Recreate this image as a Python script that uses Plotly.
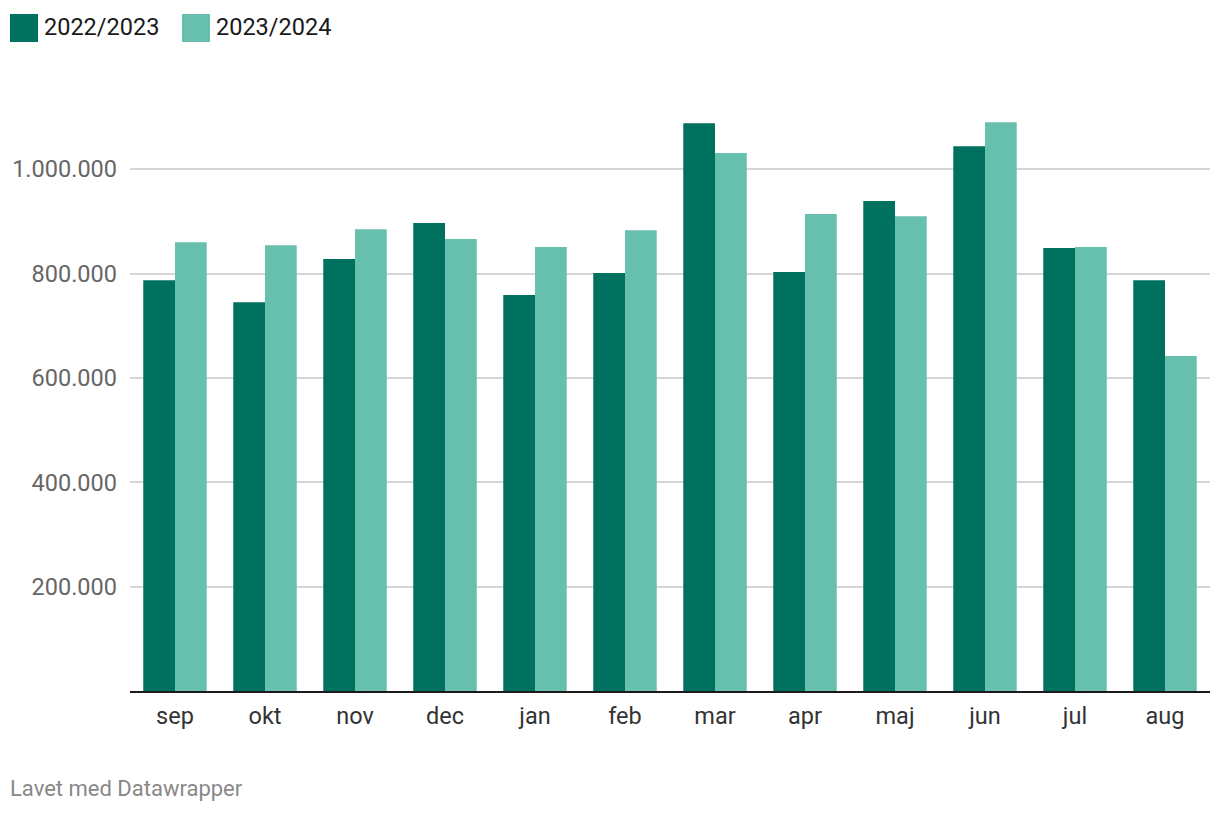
import plotly.graph_objects as go

months = ["sep", "okt", "nov", "dec", "jan", "feb", "mar", "apr", "maj", "jun", "jul", "aug"]
series_names = ["2022/2023", "2023/2024"]
values_2022_2023 = [787000, 745000, 828000, 897000, 759000, 801000, 1088000, 803000, 939000, 1044000, 849000, 787000]
values_2023_2024 = [860000, 854000, 885000, 866000, 851000, 883000, 1031000, 914000, 910000, 1090000, 851000, 642000]
y_ticks = [200000, 400000, 600000, 800000, 1000000]
colors = ["#00705f", "#67bfae"]

# page has an 8px body margin; work in figure coords = screen - 8
OFF = 8
W, H = 1212, 806
L, R, T, B = 130 - OFF, 1212 - (1210 - OFF), 117 - OFF, 806 - (691 - OFF)
PW = W - L - R
PH = H - T - B

fig = go.Figure()
for name, vals, c in zip(series_names, [values_2022_2023, values_2023_2024], colors):
    fig.add_trace(go.Bar(x=months, y=vals, name=name, marker=dict(color=c, line=dict(width=0)),
                         hoverinfo="skip", showlegend=False))

fig.update_layout(
    width=W, height=H,
    margin=dict(l=L, r=R, t=T, b=B, autoexpand=False),
    paper_bgcolor="white", plot_bgcolor="white",
    barmode="group", bargap=0.295, bargroupgap=0,
    separators=",.",
    font=dict(family="Roboto", size=23.5, color="#333333"),
    xaxis=dict(showgrid=False, showline=True, linecolor="#1a1a1a", linewidth=2,
               ticks="", tickfont=dict(size=23.5, color="#333333"), ticklabelstandoff=3,
               automargin=False, fixedrange=True),
    yaxis=dict(range=[0, 1100000], tickvals=y_ticks, tickformat=",.0f",
               showgrid=True, gridcolor="#d6d6d6", gridwidth=2, zeroline=False,
               ticks="", tickfont=dict(size=23.5, color="#666666"), ticklabelstandoff=12,
               automargin=False, fixedrange=True),
)

def px_x(sx):
    return (sx - OFF - L) / PW

def px_y(sy):
    return 1 - (sy - OFF - T) / PH

# custom legend
legend_x = [10, 182]
for i, (name, c) in enumerate(zip(series_names, colors)):
    x0 = legend_x[i]
    fig.add_shape(type="rect", xref="paper", yref="paper",
                  x0=px_x(x0), x1=px_x(x0 + 28),
                  y0=px_y(42), y1=px_y(14),
                  fillcolor=c, line=dict(width=0))
    fig.add_annotation(text=name, xref="paper", yref="paper",
                       x=px_x(x0 + 32), y=px_y(26.5),
                       xanchor="left", yanchor="middle", showarrow=False,
                       font=dict(size=23.5, color="#1a1a1a"))

fig.add_annotation(text="Lavet med Datawrapper", xref="paper", yref="paper",
                   x=px_x(8), y=px_y(788.5),
                   xanchor="left", yanchor="middle", showarrow=False,
                   font=dict(size=22, color="#888888"))

fig.write_html("out.html", config={"displayModeBar": False})
